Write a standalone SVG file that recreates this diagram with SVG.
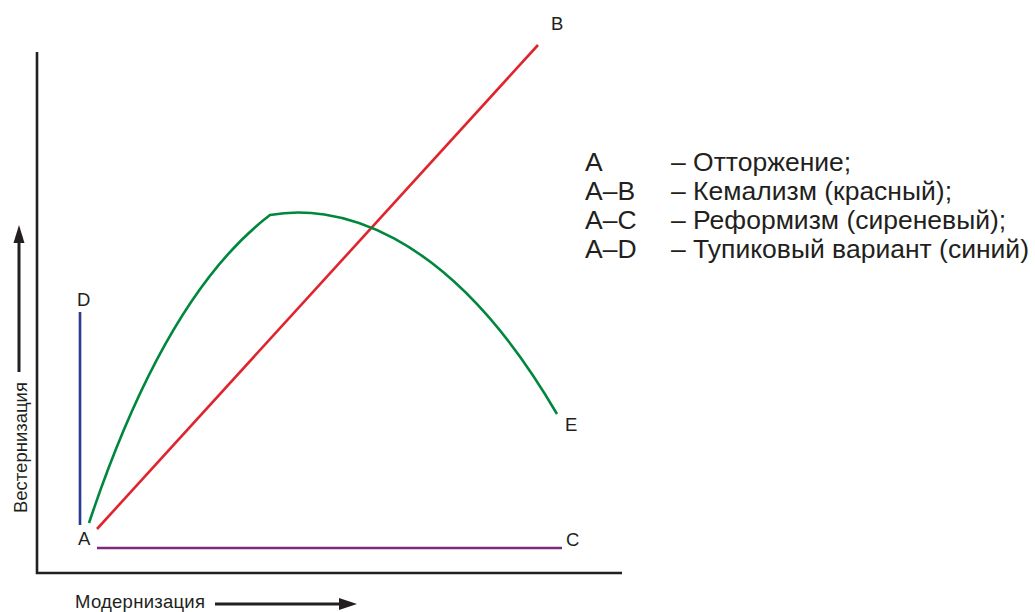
<svg xmlns="http://www.w3.org/2000/svg" width="1035" height="612" viewBox="0 0 1035 612">
<style>
.t{font-family:"Liberation Sans",Arial,sans-serif;fill:#231f20}
.lbl{font-size:18.5px}
.leg{font-size:26.5px}
.ax{fill:none;stroke:#231f20;stroke-width:2.6}
.ln{fill:none;stroke-width:2.6}
</style>
<rect width="1035" height="612" fill="#fff"/>
<g id="axes">
<polyline class="ax" points="37,52 37,573 622,573"/>
<line x1="19" y1="372" x2="19" y2="238" stroke="#231f20" stroke-width="3"/>
<polygon points="19,225 13.5,243 24.5,243" fill="#231f20"/>
<line x1="215" y1="604" x2="342" y2="604" stroke="#231f20" stroke-width="3"/>
<polygon points="357,604 339,598 339,610" fill="#231f20"/>
<text class="t lbl" x="75" y="608" textLength="130">Модернизация</text>
<text class="t lbl" transform="translate(27,513) rotate(-90)" textLength="131">Вестернизация</text>
</g>
<g id="connectors">
<line id="AD" class="ln" x1="80" y1="312" x2="80" y2="525" stroke="#2b3990"/>
<line id="AB" class="ln" x1="97" y1="529" x2="538" y2="45" stroke="#e0242e"/>
<line id="AC" class="ln" x1="97" y1="548" x2="562" y2="548" stroke="#7b2a80"/>
<path id="AE" class="ln" d="M89,523 Q165,295 270,215 C330,204 445,222 557,414" stroke="#00873e"/>
</g>
<g id="node-A"><text class="t lbl" x="78" y="545">A</text></g>
<g id="node-B"><text class="t lbl" x="551" y="30">B</text></g>
<g id="node-C"><text class="t lbl" x="566" y="546">C</text></g>
<g id="node-D"><text class="t lbl" x="77" y="306">D</text></g>
<g id="node-E"><text class="t lbl" x="565" y="431">E</text></g>
<g id="legend">
<text class="t leg" x="585" y="171">A</text>
<text class="t leg" x="671" y="171">– Отторжение;</text>
<text class="t leg" x="585" y="200">A–B</text>
<text class="t leg" x="671" y="200">– Кемализм (красный);</text>
<text class="t leg" x="585" y="229">A–C</text>
<text class="t leg" x="671" y="229">– Реформизм (сиреневый);</text>
<text class="t leg" x="585" y="258">A–D</text>
<text class="t leg" x="671" y="258">– Тупиковый вариант (синий)</text>
</g>
</svg>
